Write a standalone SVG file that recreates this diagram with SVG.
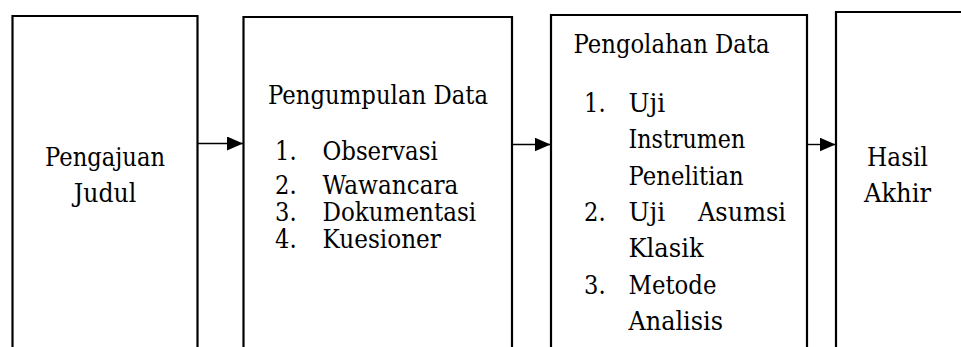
<svg xmlns="http://www.w3.org/2000/svg" width="961" height="347" viewBox="0 0 961 347">
<defs>
<style>
.box{fill:none;stroke:#000;stroke-width:2.2}
.con{stroke:#000;stroke-width:1.4;fill:none}
text{font-size:26px;fill:#000;font-family:"DejaVu Serif","Liberation Serif","Times New Roman",serif}
.c{text-anchor:middle}
.e{text-anchor:end}
</style>
<marker id="ah" markerWidth="16" markerHeight="14" refX="16" refY="7" orient="auto" markerUnits="userSpaceOnUse">
<path d="M0,0 L16,7 L0,14 Z" fill="#000"/>
</marker>
</defs>
<rect width="961" height="347" fill="#fff"/>
<g id="n1">
<path class="box" d="M12.5,360 V16 H197.5 V360"/>
<text class="c" x="105" y="166" textLength="120" lengthAdjust="spacingAndGlyphs">Pengajuan</text>
<text class="c" x="105" y="202" textLength="62.4" lengthAdjust="spacingAndGlyphs">Judul</text>
</g>
<g id="n2">
<path class="box" d="M243.5,360 V17 H512 V360"/>
<text x="268" y="104" textLength="220" lengthAdjust="spacingAndGlyphs">Pengumpulan Data</text>
<text x="275" y="160" textLength="21.6" lengthAdjust="spacingAndGlyphs">1.</text><text x="322.5" y="160" textLength="115.2" lengthAdjust="spacingAndGlyphs">Observasi</text>
<text x="275" y="194" textLength="21.6" lengthAdjust="spacingAndGlyphs">2.</text><text x="322.5" y="194" textLength="135.9" lengthAdjust="spacingAndGlyphs">Wawancara</text>
<text x="275" y="221" textLength="21.6" lengthAdjust="spacingAndGlyphs">3.</text><text x="322.5" y="221" textLength="153.6" lengthAdjust="spacingAndGlyphs">Dokumentasi</text>
<text x="275" y="248" textLength="21.6" lengthAdjust="spacingAndGlyphs">4.</text><text x="322.5" y="248" textLength="118.4" lengthAdjust="spacingAndGlyphs">Kuesioner</text>
</g>
<g id="n3">
<path class="box" d="M551,360 V15 H807 V360"/>
<text x="573.5" y="53" textLength="196" lengthAdjust="spacingAndGlyphs">Pengolahan Data</text>
<text x="584" y="112" textLength="21.6" lengthAdjust="spacingAndGlyphs">1.</text><text x="628.5" y="112" textLength="36.8" lengthAdjust="spacingAndGlyphs">Uji</text>
<text x="628.5" y="148" textLength="116.8" lengthAdjust="spacingAndGlyphs">Instrumen</text>
<text x="628.5" y="184.5" textLength="115.2" lengthAdjust="spacingAndGlyphs">Penelitian</text>
<text x="584" y="221" textLength="21.6" lengthAdjust="spacingAndGlyphs">2.</text><text x="628.5" y="221" textLength="36.8" lengthAdjust="spacingAndGlyphs">Uji</text><text class="e" x="786" y="221" textLength="88" lengthAdjust="spacingAndGlyphs">Asumsi</text>
<text x="628.5" y="257" textLength="75.2" lengthAdjust="spacingAndGlyphs">Klasik</text>
<text x="584" y="293.5" textLength="21.6" lengthAdjust="spacingAndGlyphs">3.</text><text x="628.5" y="293.5" textLength="88" lengthAdjust="spacingAndGlyphs">Metode</text>
<text x="628.5" y="329.5" textLength="94.4" lengthAdjust="spacingAndGlyphs">Analisis</text>
</g>
<g id="n4">
<path class="box" d="M836,360 V12 H970"/>
<text class="c" x="897.5" y="166" textLength="60.8" lengthAdjust="spacingAndGlyphs">Hasil</text>
<text class="c" x="897.5" y="202" textLength="67.2" lengthAdjust="spacingAndGlyphs">Akhir</text>
</g>
<g id="connectors">
<line class="con" x1="197.5" y1="143.5" x2="243" y2="143.5" marker-end="url(#ah)"/>
<line class="con" x1="512" y1="144.5" x2="550.5" y2="144.5" marker-end="url(#ah)"/>
<line class="con" x1="807" y1="144.5" x2="835.5" y2="144.5" marker-end="url(#ah)"/>
</g>
</svg>
